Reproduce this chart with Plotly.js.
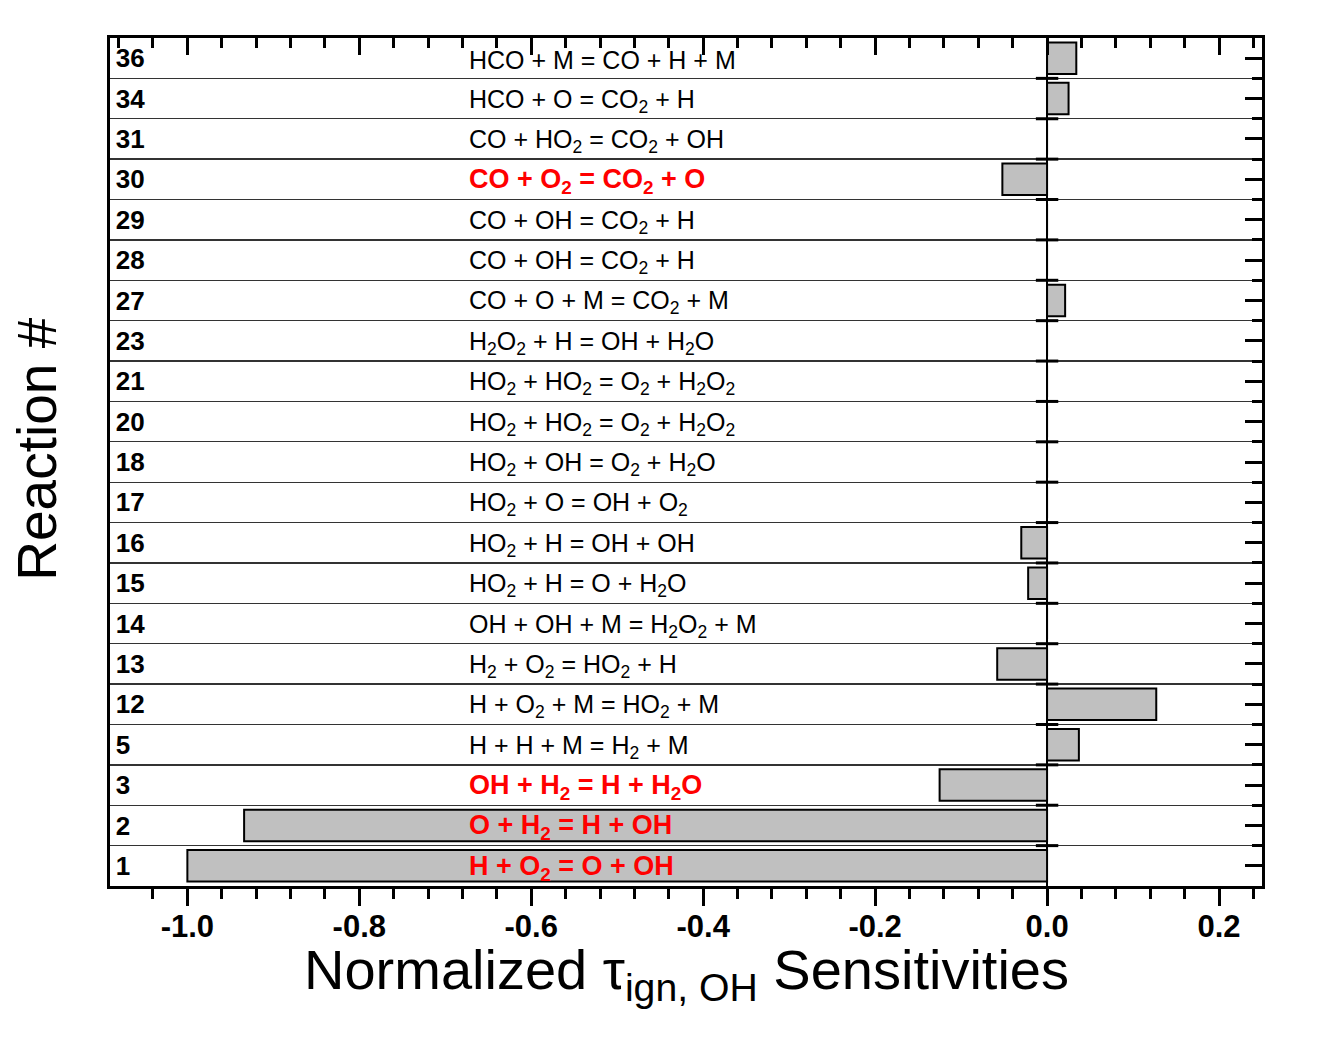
<!DOCTYPE html>
<html>
<head>
<meta charset="utf-8">
<script src="https://cdn.plot.ly/plotly-3.0.1.min.js"></script>
<style>
  html, body { margin: 0; padding: 0; background: #ffffff; }
  #chart { width: 1326px; height: 1038px; }
</style>
</head>
<body>
<div id="chart"></div>
<script>
// Reaction numbers, listed from the bottom row to the top row
const reactionIds = ['1','2','3','5','12','13','14','15','16','17','18','20','21','23','27','28','29','30','31','34','36'];

// Normalized ignition-delay (OH) sensitivity per reaction
const sensitivities = [-1.0, -0.934, -0.125, 0.037, 0.127, -0.058, 0, -0.022, -0.030, 0, 0, 0, 0, 0, 0.021, 0, 0, -0.052, 0, 0.025, 0.034];

// Reaction equations
const reactionLabels = [
  'H + O<sub>2</sub> = O + OH',
  'O + H<sub>2</sub> = H + OH',
  'OH + H<sub>2</sub> = H + H<sub>2</sub>O',
  'H + H + M = H<sub>2</sub> + M',
  'H + O<sub>2</sub> + M = HO<sub>2</sub> + M',
  'H<sub>2</sub> + O<sub>2</sub> = HO<sub>2</sub> + H',
  'OH + OH + M = H<sub>2</sub>O<sub>2</sub> + M',
  'HO<sub>2</sub> + H = O + H<sub>2</sub>O',
  'HO<sub>2</sub> + H = OH + OH',
  'HO<sub>2</sub> + O = OH + O<sub>2</sub>',
  'HO<sub>2</sub> + OH = O<sub>2</sub> + H<sub>2</sub>O',
  'HO<sub>2</sub> + HO<sub>2</sub> = O<sub>2</sub> + H<sub>2</sub>O<sub>2</sub>',
  'HO<sub>2</sub> + HO<sub>2</sub> = O<sub>2</sub> + H<sub>2</sub>O<sub>2</sub>',
  'H<sub>2</sub>O<sub>2</sub> + H = OH + H<sub>2</sub>O',
  'CO + O + M = CO<sub>2</sub> + M',
  'CO + OH = CO<sub>2</sub> + H',
  'CO + OH = CO<sub>2</sub> + H',
  'CO + O<sub>2</sub> = CO<sub>2</sub> + O',
  'CO + HO<sub>2</sub> = CO<sub>2</sub> + OH',
  'HCO + O = CO<sub>2</sub> + H',
  'HCO + M = CO + H + M'
];

// Reactions highlighted in red
const highlightedIds = ['1','2','3','30'];

// X-axis tick labels
const xTickValues = [-1.0, -0.8, -0.6, -0.4, -0.2, 0.0, 0.2];
const xTickLabels = ['-1.0', '-0.8', '-0.6', '-0.4', '-0.2', '0.0', '0.2'];

// Axis titles
const xTitle = 'Normalized τ<sub>ign, OH</sub> Sensitivities';
const yTitle = 'Reaction #';

const FONT = 'Arial, "Liberation Sans", sans-serif';
const XRANGE = [-1.09, 0.25];
const YRANGE = [-0.5, reactionIds.length - 0.5];
const LABEL_X = -0.675;

const barTrace = {
  type: 'bar',
  orientation: 'h',
  y: reactionIds,
  x: sensitivities,
  width: 0.78,
  marker: { color: '#c0c0c0', line: { color: '#000000', width: 2 } },
  hoverinfo: 'x+y',
  showlegend: false
};

// Small tick marks crossing the zero line at every row boundary
const boundaryPos = reactionIds.slice(1).map((_, k) => k + 0.5);
const zeroTickTrace = {
  type: 'scatter', mode: 'markers',
  x: boundaryPos.map(() => 0), y: boundaryPos,
  xaxis: 'x2', yaxis: 'y2',
  marker: { symbol: 'line-ew', size: 16, line: { color: '#000', width: 3 } },
  hoverinfo: 'skip', showlegend: false, cliponaxis: false
};

const annotations = reactionIds.map((id, i) => {
  const hi = highlightedIds.includes(id);
  return {
    xref: 'x', yref: 'y',
    x: LABEL_X, y: i,
    xanchor: 'left', yanchor: 'middle',
    yshift: -2,
    showarrow: false,
    text: reactionLabels[i],
    font: { family: FONT, size: hi ? 27 : 25, color: hi ? '#ff0000' : '#000000', weight: hi ? 'bold' : 'normal' }
  };
});

annotations.push({
  xref: 'paper', yref: 'paper', x: 0.5, y: -0.0585,
  xanchor: 'center', yanchor: 'top', showarrow: false,
  text: xTitle, font: { family: FONT, size: 56, color: '#000' }
});
annotations.push({
  xref: 'paper', yref: 'paper', x: -0.063, y: 0.515,
  xanchor: 'center', yanchor: 'middle', showarrow: false, textangle: -90,
  text: yTitle, font: { family: FONT, size: 55, color: '#000' }
});

const layout = {
  width: 1326, height: 1038,
  margin: { l: 110, r: 64, t: 38, b: 152 },
  paper_bgcolor: '#ffffff',
  plot_bgcolor: '#ffffff',
  font: { family: FONT, color: '#000000' },
  xaxis: {
    range: XRANGE,
    tickmode: 'array',
    tickvals: xTickValues,
    ticktext: xTickLabels,
    ticks: 'outside', ticklen: 17, tickwidth: 3, tickcolor: '#000',
    minor: { tick0: 0, dtick: 0.04, ticks: 'outside', ticklen: 10, tickwidth: 3, tickcolor: '#000', showgrid: false },
    tickfont: { family: FONT, size: 31, weight: 'bold', color: '#000' },
    ticklabelstandoff: -6,
    showline: true, linewidth: 3, linecolor: '#000', mirror: true,
    showgrid: false,
    zeroline: true, zerolinecolor: '#000', zerolinewidth: 2.5,
    fixedrange: true
  },
  xaxis2: {
    range: XRANGE,
    overlaying: 'x', side: 'top', anchor: 'y2',
    tickmode: 'array', tickvals: xTickValues,
    showticklabels: false,
    ticks: 'inside', ticklen: 17, tickwidth: 3, tickcolor: '#000',
    minor: { tick0: 0, dtick: 0.04, ticks: 'inside', ticklen: 10, tickwidth: 3, tickcolor: '#000', showgrid: false },
    showgrid: false, zeroline: false, showline: false,
    fixedrange: true
  },
  yaxis: {
    type: 'category',
    categoryorder: 'array', categoryarray: reactionIds,
    range: YRANGE,
    tickson: 'boundaries',
    ticks: '',
    ticklabelposition: 'inside',
    ticklabelstandoff: 8,
    tickfont: { family: FONT, size: 26, weight: 'bold', color: '#000' },
    showgrid: true, gridcolor: '#333333', gridwidth: 1.3,
    showline: true, linewidth: 3, linecolor: '#000', mirror: true,
    zeroline: false,
    fixedrange: true
  },
  yaxis2: {
    overlaying: 'y', side: 'right', anchor: 'x2',
    range: YRANGE,
    tick0: 0, dtick: 1,
    showticklabels: false,
    ticks: 'inside', ticklen: 17, tickwidth: 3, tickcolor: '#000',
    minor: { tick0: 0.5, dtick: 1, ticks: 'inside', ticklen: 10, tickwidth: 3, tickcolor: '#000', showgrid: false },
    showgrid: false, zeroline: false, showline: false,
    fixedrange: true
  },
  annotations: annotations
};

Plotly.newPlot('chart', [barTrace, zeroTickTrace], layout, { displayModeBar: false, staticPlot: true });
</script>
</body>
</html>
